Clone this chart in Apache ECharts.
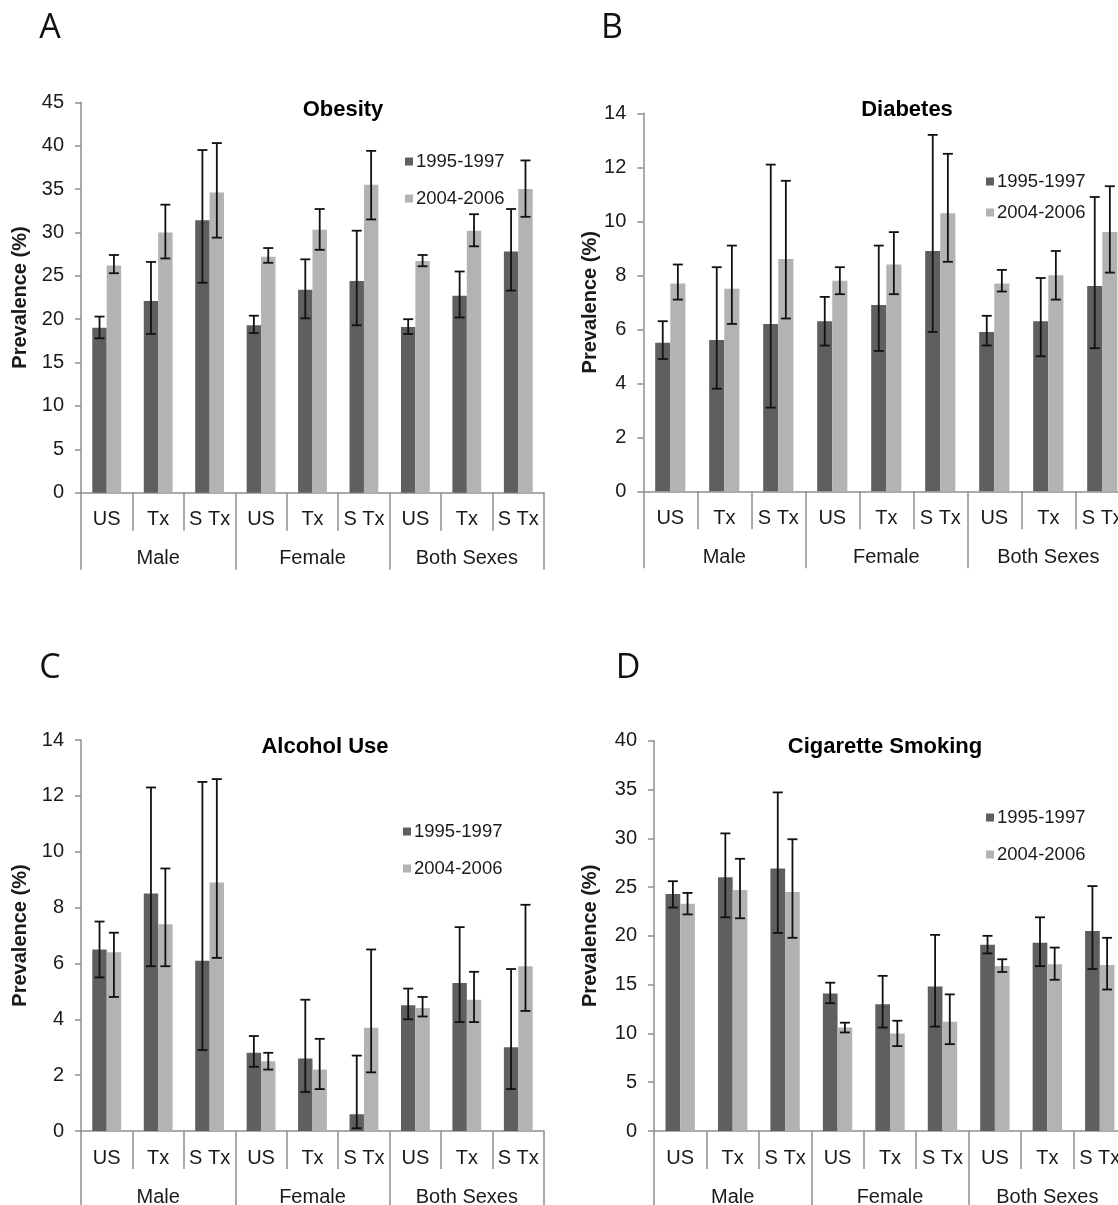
<!DOCTYPE html>
<html>
<head>
<meta charset="utf-8">
<script src="https://cdn.jsdelivr.net/npm/echarts@6/dist/echarts.min.js"></script>
<style>
html,body{margin:0;padding:0;background:#fff;}
#chart{width:1118px;height:1205px;}
</style>
</head>
<body>
<div id="chart"></div>
<script>
// ---------- data ----------
const groups = ['Male', 'Female', 'Both Sexes'];
const subCategories = ['US', 'Tx', 'S Tx'];
const seriesNames = ['1995-1997', '2004-2006'];

const obesity1995 = [19.0, 22.1, 31.4, 19.3, 23.4, 24.4, 19.1, 22.7, 27.8];
const obesity1995Low = [17.8, 18.3, 24.2, 18.4, 20.1, 19.3, 18.3, 20.2, 23.3];
const obesity1995High = [20.3, 26.6, 39.5, 20.4, 26.9, 30.2, 20.0, 25.5, 32.7];
const obesity2004 = [26.2, 30.0, 34.6, 27.2, 30.3, 35.5, 26.7, 30.2, 35.0];
const obesity2004Low = [25.3, 27.0, 29.4, 26.5, 28.0, 31.5, 26.1, 28.4, 31.8];
const obesity2004High = [27.4, 33.2, 40.3, 28.2, 32.7, 39.4, 27.4, 32.1, 38.3];

const diabetes1995 = [5.5, 5.6, 6.2, 6.3, 6.9, 8.9, 5.9, 6.3, 7.6];
const diabetes1995Low = [4.9, 3.8, 3.1, 5.4, 5.2, 5.9, 5.4, 5.0, 5.3];
const diabetes1995High = [6.3, 8.3, 12.1, 7.2, 9.1, 13.2, 6.5, 7.9, 10.9];
const diabetes2004 = [7.7, 7.5, 8.6, 7.8, 8.4, 10.3, 7.7, 8.0, 9.6];
const diabetes2004Low = [7.1, 6.2, 6.4, 7.3, 7.3, 8.5, 7.4, 7.1, 8.1];
const diabetes2004High = [8.4, 9.1, 11.5, 8.3, 9.6, 12.5, 8.2, 8.9, 11.3];

const alcohol1995 = [6.5, 8.5, 6.1, 2.8, 2.6, 0.6, 4.5, 5.3, 3.0];
const alcohol1995Low = [5.5, 5.9, 2.9, 2.3, 1.4, 0.1, 4.0, 3.9, 1.5];
const alcohol1995High = [7.5, 12.3, 12.5, 3.4, 4.7, 2.7, 5.1, 7.3, 5.8];
const alcohol2004 = [6.4, 7.4, 8.9, 2.5, 2.2, 3.7, 4.4, 4.7, 5.9];
const alcohol2004Low = [4.8, 5.9, 6.2, 2.2, 1.5, 2.1, 4.1, 3.9, 4.3];
const alcohol2004High = [7.1, 9.4, 12.6, 2.8, 3.3, 6.5, 4.8, 5.7, 8.1];

const smoking1995 = [24.3, 26.0, 26.9, 14.1, 13.0, 14.8, 19.1, 19.3, 20.5];
const smoking1995Low = [22.9, 21.9, 20.3, 13.1, 10.6, 10.7, 18.2, 16.9, 16.6];
const smoking1995High = [25.6, 30.5, 34.7, 15.2, 15.9, 20.1, 20.0, 21.9, 25.1];
const smoking2004 = [23.3, 24.7, 24.5, 10.6, 10.0, 11.2, 16.9, 17.1, 17.0];
const smoking2004Low = [22.2, 21.8, 19.8, 10.1, 8.7, 8.9, 16.3, 15.5, 14.5];
const smoking2004High = [24.4, 27.9, 29.9, 11.1, 11.3, 14.0, 17.6, 18.8, 19.8];

const panelTitles = ['Obesity', 'Diabetes', 'Alcohol Use', 'Cigarette Smoking'];
const panelLetters = ['A', 'B', 'C', 'D'];
const yMax = [45, 14, 14, 40];
const yInterval = [5, 2, 2, 5];

// ---------- layout / style ----------
const FONT = '"Liberation Sans", Arial, sans-serif';
const DARK = '#5f5f5f';
const LIGHT = '#b3b3b3';
const AXIS = '#8e8e8e';
const TEXT = '#1a1a1a';

const panels = [
  { grid: { left: 81, top: 102.3, width: 463, height: 390.4 }, nameGap: 51,
    legend: { left: 400, top: 147, itemGap: 18 },
    title: [343, 110], letter: [50, 28],
    values: [obesity1995, obesity2004], lows: [obesity1995Low, obesity2004Low], highs: [obesity1995High, obesity2004High] },
  { grid: { left: 643.3, top: 113.3, width: 486, height: 378 }, nameGap: 43,
    legend: { left: 981, top: 167, itemGap: 12 },
    title: [907, 110], letter: [612, 28],
    values: [diabetes1995, diabetes2004], lows: [diabetes1995Low, diabetes2004Low], highs: [diabetes1995High, diabetes2004High] },
  { grid: { left: 81, top: 740, width: 463, height: 391 }, nameGap: 51,
    legend: { left: 398, top: 817, itemGap: 18 },
    title: [325, 747], letter: [50, 668],
    values: [alcohol1995, alcohol2004], lows: [alcohol1995Low, alcohol2004Low], highs: [alcohol1995High, alcohol2004High] },
  { grid: { left: 654, top: 740.7, width: 472, height: 390.3 }, nameGap: 54,
    legend: { left: 981, top: 803, itemGap: 18 },
    title: [885, 747], letter: [628, 668],
    values: [smoking1995, smoking2004], lows: [smoking1995Low, smoking2004Low], highs: [smoking1995High, smoking2004High] }
];

const categoryKeys = [];
groups.forEach(g => subCategories.forEach(s => categoryKeys.push(g + '|' + s)));

const grid = [], xAxis = [], yAxis = [], series = [], legend = [], graphic = [];

function errorRender(sign) {
  return function (params, api) {
    const idx = api.value(0);
    const band = api.size([1, 0])[0];
    const off = sign * band * 0.14;
    const pLow = api.coord([idx, api.value(1)]);
    const pHigh = api.coord([idx, api.value(2)]);
    const x = pLow[0] + off;
    const cap = 5;
    const st = { stroke: '#111', lineWidth: 1.8 };
    return {
      type: 'group',
      children: [
        { type: 'line', shape: { x1: x, y1: pLow[1], x2: x, y2: pHigh[1] }, style: st },
        { type: 'line', shape: { x1: x - cap, y1: pLow[1], x2: x + cap, y2: pLow[1] }, style: st },
        { type: 'line', shape: { x1: x - cap, y1: pHigh[1], x2: x + cap, y2: pHigh[1] }, style: st }
      ]
    };
  };
}

panels.forEach((p, i) => {
  grid.push(Object.assign({ containLabel: false, outerBoundsMode: 'none' }, p.grid));
  // sub-category axis
  xAxis.push({
    type: 'category', gridIndex: i, data: categoryKeys, position: 'bottom',
    axisLine: { show: true, lineStyle: { color: AXIS, width: 1.5 } },
    axisTick: { show: true, interval: 0, length: 38, lineStyle: { color: AXIS, width: 1.5 } },
    axisLabel: { interval: 0, margin: 17, fontSize: 20, fontFamily: FONT, color: TEXT,
      formatter: v => v.split('|')[1] },
    splitLine: { show: false }
  });
  // group axis
  xAxis.push({
    type: 'category', gridIndex: i, data: groups, position: 'bottom',
    axisLine: { show: false },
    axisTick: { show: true, interval: 0, length: 77, lineStyle: { color: AXIS, width: 1.5 } },
    axisLabel: { interval: 0, margin: 56, fontSize: 20, fontFamily: FONT, color: TEXT },
    splitLine: { show: false }
  });
  yAxis.push({
    type: 'value', gridIndex: i, min: 0, max: yMax[i], interval: yInterval[i],
    name: 'Prevalence (%)', nameLocation: 'middle', nameGap: p.nameGap,
    nameTextStyle: { fontSize: 20, fontWeight: 'bold', fontFamily: FONT, color: TEXT },
    axisLine: { show: true, lineStyle: { color: AXIS, width: 1.5 } },
    axisTick: { show: true, length: 6, lineStyle: { color: AXIS, width: 1.5 } },
    axisLabel: { margin: 17, fontSize: 20, fontFamily: FONT, color: TEXT },
    splitLine: { show: false }
  });
  const xi = i * 2;
  [0, 1].forEach(k => {
    series.push({
      type: 'bar', name: seriesNames[k], xAxisIndex: xi, yAxisIndex: i,
      data: p.values[k], barWidth: '28%', barGap: '0%',
      itemStyle: { color: k === 0 ? DARK : LIGHT },
      emphasis: { disabled: true }, z: 2
    });
  });
  [0, 1].forEach(k => {
    series.push({
      type: 'custom', name: 'err' + i + k, xAxisIndex: xi, yAxisIndex: i,
      data: p.values[k].map((v, j) => [j, p.lows[k][j], p.highs[k][j]]),
      encode: { x: 0, y: [1, 2] },
      renderItem: errorRender(k === 0 ? -1 : 1), z: 5, silent: true
    });
  });
  legend.push({
    data: seriesNames, orient: 'vertical', left: p.legend.left, top: p.legend.top,
    itemGap: p.legend.itemGap, icon: 'rect', itemWidth: 8, itemHeight: 8,
    itemStyle: {}, textStyle: { fontSize: 18.5, fontFamily: FONT, color: TEXT, padding: [0, 0, 0, -2] },
    selectedMode: false
  });
  graphic.push({
    type: 'text', x: p.title[0], y: p.title[1],
    style: { text: panelTitles[i], font: 'bold 22px ' + FONT, fill: '#000', textAlign: 'center', textVerticalAlign: 'middle' }
  });
  graphic.push({
    type: 'text', x: p.letter[0], y: p.letter[1],
    style: { text: panelLetters[i], font: '34px "Open Sans", sans-serif', fill: '#111', textAlign: 'center', textVerticalAlign: 'middle' }
  });
});

const chart = echarts.init(document.getElementById('chart'), null, { renderer: 'canvas' });
chart.setOption({
  backgroundColor: '#fff',
  animation: false,
  grid, xAxis, yAxis, series, legend, graphic
});
</script>
</body>
</html>
